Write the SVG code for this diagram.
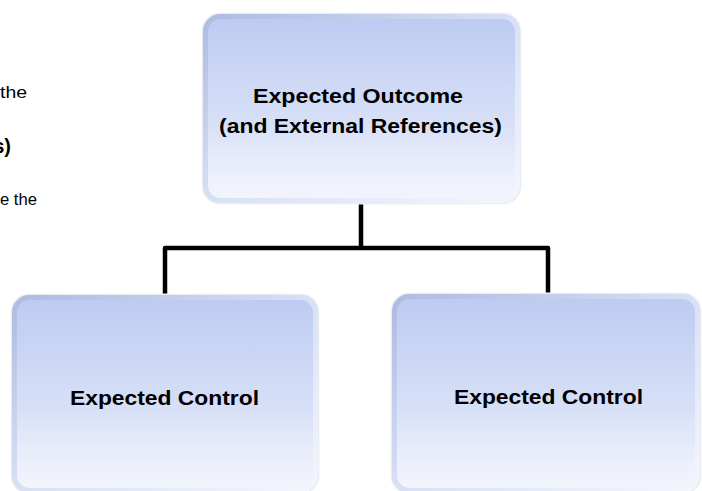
<svg xmlns="http://www.w3.org/2000/svg" width="702" height="491" viewBox="0 0 702 491">
<defs>
<linearGradient id="fill" x1="0" y1="0" x2="0" y2="1">
<stop offset="0" stop-color="#bccbf1"/>
<stop offset="0.5" stop-color="#d0daf6"/>
<stop offset="1" stop-color="#e9edfb"/>
</linearGradient>
<linearGradient id="bevel" x1="0" y1="0" x2="1" y2="1">
<stop offset="0" stop-color="#aebbe0"/>
<stop offset="0.5" stop-color="#d8e0f6"/>
<stop offset="1" stop-color="#f4f6fd"/>
</linearGradient>
<linearGradient id="sheen" x1="0" y1="0" x2="0" y2="1">
<stop offset="0" stop-color="#ffffff" stop-opacity="0"/>
<stop offset="0.6" stop-color="#ffffff" stop-opacity="0.1"/>
<stop offset="1" stop-color="#ffffff" stop-opacity="0.45"/>
</linearGradient>
</defs>
<style>
.edge{fill:#e4e7ee;stroke:#f2f3f7;stroke-width:1}
.body{fill:url(#fill);stroke:url(#bevel);stroke-width:5}
.gloss{fill:url(#sheen)}
.lbl{font-family:"Liberation Sans",Arial,sans-serif;font-weight:bold;font-size:20px;fill:#000;text-anchor:middle}
.frag{font-family:"Liberation Sans",Arial,sans-serif;font-size:16px;fill:#000;text-anchor:end}
.conn{fill:none;stroke:#000;stroke-width:4.5;stroke-linejoin:round}
</style>

<g id="fragments">
<text class="frag" x="27" y="98" textLength="27" lengthAdjust="spacingAndGlyphs">the</text>
<text class="frag" x="11" y="153" style="font-weight:bold;font-size:20px">s)</text>
<text class="frag" x="37" y="205" textLength="37" lengthAdjust="spacingAndGlyphs">e the</text>
</g>

<g id="connectors">
<path class="conn" d="M361,203 V248"/>
<path class="conn" d="M165,294 V248 H548 V293"/>
</g>

<g id="node-outcome">
<rect class="edge" x="202" y="13" width="319" height="191" rx="18"/>
<rect class="body" x="205.5" y="16.5" width="312" height="184" rx="15"/>
<rect class="gloss" x="208" y="19" width="307" height="179" rx="13"/>
<text class="lbl" x="358" y="103" textLength="210" lengthAdjust="spacingAndGlyphs">Expected Outcome</text>
<text class="lbl" x="360.5" y="133" textLength="283" lengthAdjust="spacingAndGlyphs">(and External References)</text>
</g>

<g id="node-control-left">
<rect class="edge" x="11" y="294" width="308" height="200" rx="18"/>
<rect class="body" x="14.5" y="297.5" width="301" height="193" rx="15"/>
<rect class="gloss" x="17" y="300" width="296" height="188" rx="13"/>
<text class="lbl" x="164.5" y="405" textLength="189" lengthAdjust="spacingAndGlyphs">Expected Control</text>
</g>

<g id="node-control-right">
<rect class="edge" x="391" y="293" width="310" height="201" rx="18"/>
<rect class="body" x="394.5" y="296.5" width="303" height="194" rx="15"/>
<rect class="gloss" x="397" y="299" width="298" height="189" rx="13"/>
<text class="lbl" x="548.5" y="404" textLength="189" lengthAdjust="spacingAndGlyphs">Expected Control</text>
</g>
</svg>
